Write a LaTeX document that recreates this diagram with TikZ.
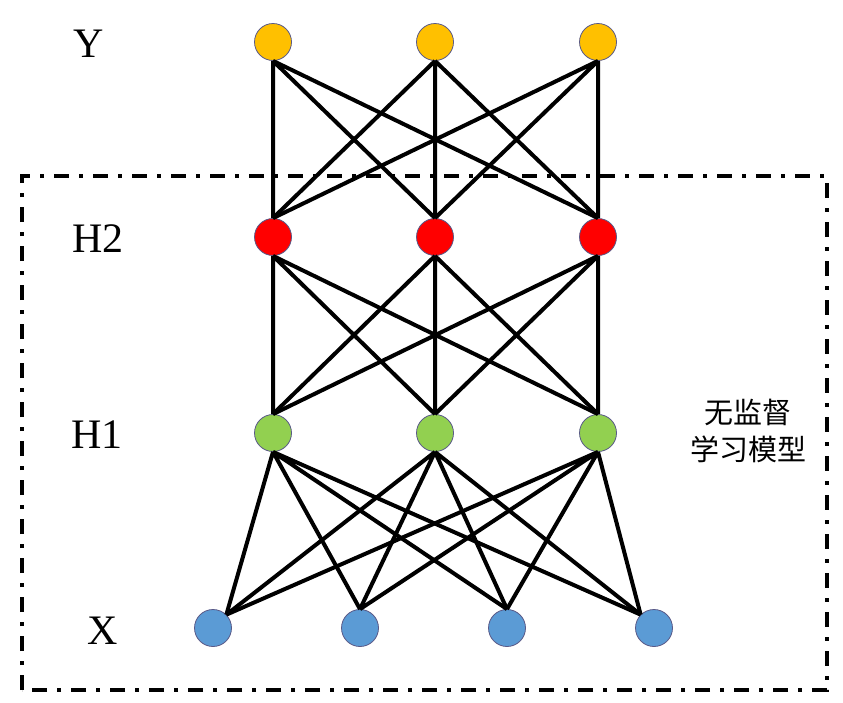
\documentclass[tikz,border=0pt]{standalone}
\usepackage{fontspec}
\setmainfont{Liberation Serif}
\newfontfamily\cjkfont{Noto Sans CJK SC}
\usepackage{tikz}
\usetikzlibrary{
  positioning,
  backgrounds
}

\begin{document}
\begin{tikzpicture}[
      x=1pt,y=-1pt,
      unit/.style={
         circle,
         minimum size=37pt,
         inner sep=0pt,
         line width=0.8pt,
         draw=black!40!blue!30!gray
      },
      outunit/.style={unit, fill={rgb,255:red,255;green,192;blue,0}},
      hidtwo/.style={unit, fill={rgb,255:red,255;green,0;blue,0}},
      hidone/.style={unit, fill={rgb,255:red,146;green,208;blue,80}},
      inunit/.style={unit, fill={rgb,255:red,91;green,155;blue,213}},
      layername/.style={font=\fontsize{42}{46}\selectfont, inner sep=0pt},
      link/.style={line width=4pt, draw=black},
      frame/.style={line width=3.5pt, draw=black,
         dash pattern=on 15pt off 10pt on 4pt off 10pt},
      note/.style={font=\cjkfont\fontsize{29}{37}\selectfont, align=center, inner sep=0pt}
    ]
    \useasboundingbox (0,0) rectangle (843,702);
    % frame of the unsupervised part
    \coordinate (bl) at (22,690);
    \coordinate (tr) at (827,176);
    \draw [frame] (bl) rectangle (tr);
    % layers
    \node (y1) [outunit] at (273,42) {};
    \node (y2) [outunit] at (435,42) {};
    \node (y3) [outunit] at (598,42) {};
    \node (hb1) [hidtwo] at (273,237) {};
    \node (hb2) [hidtwo] at (435,237) {};
    \node (hb3) [hidtwo] at (598,237) {};
    \node (ha1) [hidone] at (273,433) {};
    \node (ha2) [hidone] at (435,433) {};
    \node (ha3) [hidone] at (598,433) {};
    \node (x1) [inunit] at (213,628) {};
    \node (x2) [inunit] at (360,628) {};
    \node (x3) [inunit] at (507,628) {};
    \node (x4) [inunit] at (654,628) {};
    % layer names
    \node (ly) [layername] at (89,44) {Y};
    \node (lhb) [layername] at (98,239) {H2};
    \node (lha) [layername] at (97,435) {H1};
    \node (lx) [layername] at (103,631) {X};
    \node (nt) [note] at (748,431) {无监督\\学习模型};
    % Y -- H2
    \draw [link] (y1.south) -- (hb1.north) (y1.south) -- (hb2.north) (y1.south) -- (hb3.north);
    \draw [link] (y2.south) -- (hb1.north) (y2.south) -- (hb2.north) (y2.south) -- (hb3.north);
    \draw [link] (y3.south) -- (hb1.north) (y3.south) -- (hb2.north) (y3.south) -- (hb3.north);
    % H2 -- H1
    \draw [link] (hb1.south) -- (ha1.north) (hb1.south) -- (ha2.north) (hb1.south) -- (ha3.north);
    \draw [link] (hb2.south) -- (ha1.north) (hb2.south) -- (ha2.north) (hb2.south) -- (ha3.north);
    \draw [link] (hb3.south) -- (ha1.north) (hb3.south) -- (ha2.north) (hb3.south) -- (ha3.north);
    % H1 -- X
    \draw [link] (ha1.south) -- (x1.45) (ha1.south) -- (x2.north) (ha1.south) -- (x3.north) (ha1.south) -- (x4.135);
    \draw [link] (ha2.south) -- (x1.45) (ha2.south) -- (x2.north) (ha2.south) -- (x3.north) (ha2.south) -- (x4.135);
    \draw [link] (ha3.south) -- (x1.45) (ha3.south) -- (x2.north) (ha3.south) -- (x3.north) (ha3.south) -- (x4.135);
\end{tikzpicture}
\end{document}
